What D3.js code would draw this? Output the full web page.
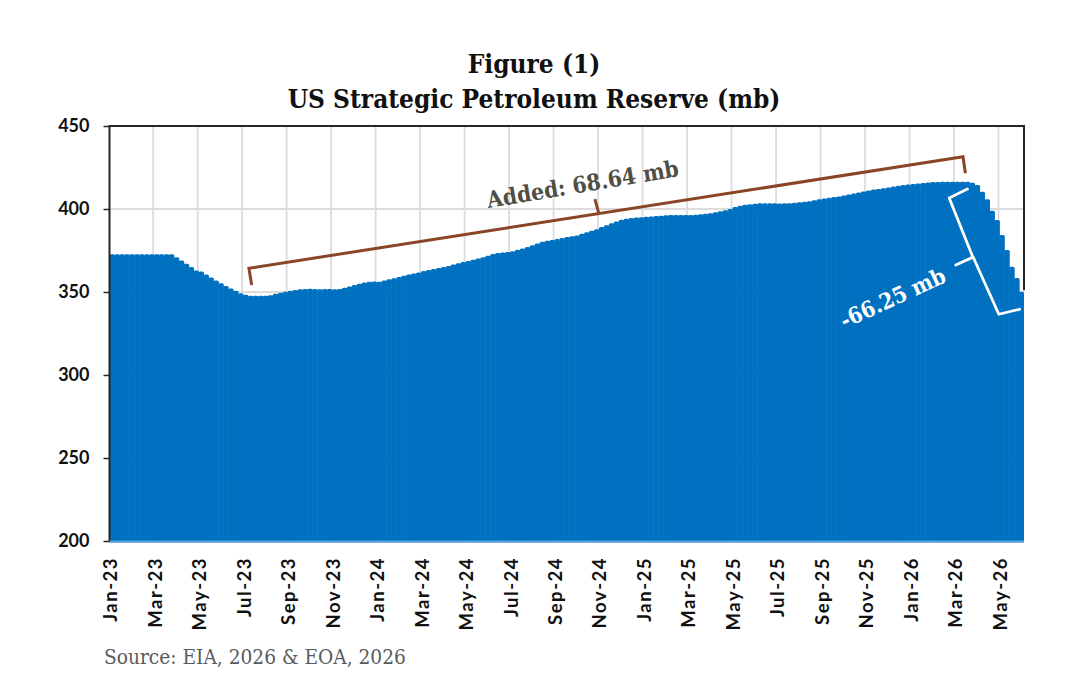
<!DOCTYPE html>
<html>
<head>
<meta charset="utf-8">
<script src="https://cdn.jsdelivr.net/npm/d3@7/dist/d3.min.js"></script>
<style>
	html, body { margin: 0; padding: 0; background: #fff; }
	svg { display: block; }
</style>
</head>
<body>
<div id="chart"></div>
<script>
// weekly stock (mb)
var reserveValues = [
	372.7, 372.7, 372.7, 372.7, 372.7, 372.7, 372.7, 372.7, 372.7, 372.7, 372.7, 372.7, 372.7,
	371, 369, 367, 365, 363, 362.4, 360.6, 358.8, 357, 355.2, 353.6, 352.1, 350.8, 349.2, 348.4,
	347.8, 347.7, 347.7, 347.8, 348, 349, 349.5, 350.2, 350.8, 351.2, 351.6, 351.8,
	351.9, 351.8, 351.7, 351.8, 351.8, 351.6, 351.8, 352.6, 353.3, 354.2, 355, 355.7, 356.2, 356.3,
	356.1, 357, 357.7, 358.3, 359, 359.8, 360.6, 361.2, 361.8, 362.6, 363.2, 363.8, 364.4, 365,
	365.7, 366.5, 367.3, 368, 368.7, 369.5, 370.2, 370.9, 371.9, 372.9, 373.5, 373.8, 374.1, 374.5,
	375.4, 376.2, 377.1, 378.1, 379.2, 380.2, 380.8, 381.4, 381.9, 382.5, 383.1, 383.6, 384.1, 385.1,
	386, 386.9, 387.8, 389.1, 390.2, 391.4, 392.5, 393.5, 394.1, 394.6, 394.9, 395.1, 395.3, 395.5,
	395.8, 396, 396.3, 396.4, 396.4, 396.4, 396.4, 396.4, 396.6, 396.9, 397.2, 397.5, 398, 398.7,
	399.3, 400, 401.2, 402, 402.5, 402.9, 403.2, 403.4, 403.5, 403.5, 403.4, 403.3, 403.4, 403.5,
	403.7, 404, 404.3, 404.6, 405.2, 405.8, 406.3, 406.8, 407.2, 407.6, 408.1, 408.7, 409.3, 409.9,
	410.6, 411.2, 411.7, 412, 412.5, 413, 413.5, 414, 414.4, 414.8, 415, 415.4, 415.7, 416, 416.2,
	416.3, 416.4, 416.4, 416.4, 416.4, 416.4, 416.4, 415.8, 414.5, 410.4, 405.8, 399, 393.4, 384.3,
	375.3, 365.2, 358.4, 350.1
];
var monthLabels = [
	'Jan-23', 'Mar-23', 'May-23', 'Jul-23', 'Sep-23', 'Nov-23',
	'Jan-24', 'Mar-24', 'May-24', 'Jul-24', 'Sep-24', 'Nov-24',
	'Jan-25', 'Mar-25', 'May-25', 'Jul-25', 'Sep-25', 'Nov-25',
	'Jan-26', 'Mar-26', 'May-26'
];
var weeksPerLabel = 9;
var yTicks = [200, 250, 300, 350, 400, 450];

// brackets, as [week, mb]
var addedBracket = [[28.76, 354.2], [28.2, 364.3], [172.66, 431.5], [173.14, 421.5]];
var addedNotch = [[99, 397.2], [98.2, 406]];
var drawnBracket = [[173.55, 412], [169.87, 406.6], [174.6, 371.4], [174.8, 370.5], [179.9, 336.6], [184.1, 339.6]];
var drawnNotch = [[171.2, 366.3], [174.7, 371]];

var width = 1079, height = 692;
var left = 109.5, right = 1024, top_ = 126, bottom = 541;
var serif = '"DejaVu Serif Condensed", "Liberation Serif", serif';
var sans = 'Lato, "Open Sans", sans-serif';

var svg = d3.select('#chart').append('svg')
	.attr('width', width)
	.attr('height', height);

var weeks = reserveValues.map(function (d, i) { return i; });
var x = d3.scaleBand().domain(weeks).range([left, right]).padding(0);
var y = d3.scaleLinear().domain([200, 450]).range([bottom, top_]);

var labelWeeks = monthLabels.map(function (d, i) { return i * weeksPerLabel; });

// grid
svg.append('g').selectAll('line').data(labelWeeks.slice(1)).enter().append('line')
	.attr('x1', function (d) { return x(d) - 0.8; })
	.attr('x2', function (d) { return x(d) - 0.8; })
	.attr('y1', top_)
	.attr('y2', bottom + 4)
	.attr('stroke', '#dcdcdc')
	.attr('stroke-width', 1.8);
svg.append('g').selectAll('line').data(yTicks.slice(1, -1)).enter().append('line')
	.attr('x1', left)
	.attr('x2', right)
	.attr('y1', function (d) { return y(d); })
	.attr('y2', function (d) { return y(d); })
	.attr('stroke', '#dcdcdc')
	.attr('stroke-width', 1.8);

// bars
svg.append('g').selectAll('rect').data(reserveValues).enter().append('rect')
	.attr('x', function (d, i) { return x(i); })
	.attr('y', function (d) { return y(d); })
	.attr('width', function (d, i) { return x.bandwidth() + (i < reserveValues.length - 1 ? 0.6 : 0); })
	.attr('height', function (d) { return bottom - y(d) + 3; })
	.attr('rx', 1.7)
	.attr('fill', '#0070c0');

// white strip under the plot, so the rounded feet of the bars are hidden
svg.append('rect')
	.attr('x', left - 1)
	.attr('y', bottom + 1.5)
	.attr('width', right - left + 2)
	.attr('height', 5)
	.attr('fill', '#fff');
svg.append('line')
	.attr('x1', left)
	.attr('x2', right)
	.attr('y1', bottom + 0.5)
	.attr('y2', bottom + 0.5)
	.attr('stroke', '#5ba3dc')
	.attr('stroke-width', 2);

// frame
svg.append('path')
	.attr('d', 'M' + left + ',' + bottom + 'V' + top_ + 'H' + right + 'V' + y(351))
	.attr('fill', 'none')
	.attr('stroke', '#262626')
	.attr('stroke-width', 2);

// axes
var yAxis = d3.axisLeft(y).tickValues(yTicks).tickSize(6).tickPadding(14);
var gy = svg.append('g').attr('transform', 'translate(' + left + ',0)').call(yAxis);
gy.select('.domain').remove();
gy.selectAll('line').attr('stroke', '#262626').attr('stroke-width', 1.5);
gy.selectAll('text')
	.attr('font-family', sans)
	.attr('font-weight', 700)
	.attr('font-size', 18)
	.attr('fill', '#111');

var xAxis = d3.axisBottom(x)
	.tickValues(labelWeeks)
	.tickSize(0)
	.tickPadding(0)
	.tickFormat(function (d) { return monthLabels[d / weeksPerLabel]; });
var gx = svg.append('g')
	.attr('transform', 'translate(' + (-x.bandwidth() / 2 + 0.6) + ',' + bottom + ')')
	.call(xAxis);
gx.select('.domain').remove();
gx.selectAll('text')
	.attr('font-family', sans)
	.attr('font-weight', 700)
	.attr('font-size', 18.5)
	.attr('letter-spacing', 1.5)
	.attr('fill', '#111')
	.attr('text-anchor', 'end')
	.attr('dy', null)
	.attr('y', null)
	.attr('transform', 'translate(0,16) rotate(-90)')
	.attr('dominant-baseline', 'central');

// brackets
var line = d3.line()
	.x(function (d) { return x(0) + d[0] * x.step(); })
	.y(function (d) { return y(d[1]); });

[addedBracket, addedNotch].forEach(function (pts) {
	svg.append('path').attr('d', line(pts))
		.attr('fill', 'none').attr('stroke', '#8a4526').attr('stroke-width', 3);
});
[drawnBracket, drawnNotch].forEach(function (pts) {
	svg.append('path').attr('d', line(pts))
		.attr('fill', 'none').attr('stroke', '#fff').attr('stroke-width', 2.8)
		.attr('stroke-linejoin', 'round').attr('stroke-linecap', 'round');
});

// texts
svg.append('text')
	.attr('x', 534).attr('y', 73)
	.attr('text-anchor', 'middle')
	.attr('font-family', serif).attr('font-weight', 700).attr('font-size', 26)
	.attr('fill', '#111')
	.text('Figure (1)');
svg.append('text')
	.attr('x', 534).attr('y', 108)
	.attr('text-anchor', 'middle')
	.attr('font-family', serif).attr('font-weight', 700).attr('font-size', 26)
	.attr('fill', '#111')
	.text('US Strategic Petroleum Reserve (mb)');

svg.append('text')
	.attr('transform', 'translate(584,192) rotate(-9.5)')
	.attr('text-anchor', 'middle')
	.attr('font-family', serif).attr('font-weight', 700).attr('font-size', 22.8)
	.attr('fill', '#4f4f45')
	.text('Added: 68.64 mb');
svg.append('text')
	.attr('transform', 'translate(896,305) rotate(-24.7)')
	.attr('text-anchor', 'middle')
	.attr('font-family', serif).attr('font-weight', 700).attr('font-size', 22.3)
	.attr('fill', '#fff')
	.text('-66.25 mb');

svg.append('text')
	.attr('x', 104).attr('y', 664)
	.attr('font-family', serif).attr('font-size', 20.7)
	.attr('fill', '#5a5a5a')
	.text('Source: EIA, 2026 & EOA, 2026');
</script>
</body>
</html>
